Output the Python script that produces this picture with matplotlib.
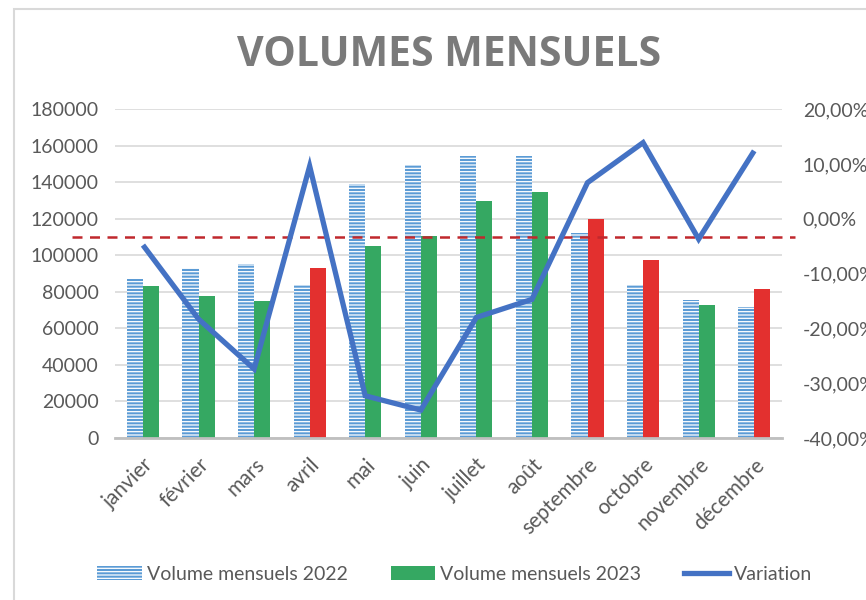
import matplotlib
matplotlib.use("Agg")
import matplotlib.pyplot as plt
from matplotlib.patches import Patch, Rectangle
from matplotlib.lines import Line2D
from matplotlib.ticker import FuncFormatter
import numpy as np

months = ["janvier", "février", "mars", "avril", "mai", "juin", "juillet",
          "août", "septembre", "octobre", "novembre", "décembre"]
vol_2022 = [87000, 93000, 95500, 84000, 139000, 149500, 154500, 154500,
            112000, 84000, 75500, 71500]
vol_2023 = [83000, 78000, 75000, 93000, 105000, 110500, 130000, 134500,
            120000, 97500, 73000, 81500]
variation = [-0.048, -0.183, -0.274, 0.096, -0.323, -0.349, -0.180, -0.147,
             0.066, 0.139, -0.037, 0.124]
threshold = 110000

GREY_TXT = "#595959"
BLUE = "#5b9bd5"
GREEN = "#35a862"
RED = "#e3302f"
LINE = "#4472c4"
FS = 14

plt.rcParams["font.family"] = ["Lato", "DejaVu Sans"]
plt.rcParams["hatch.linewidth"] = 0.9

fig = plt.figure(figsize=(8.66, 6.0), dpi=100)
# light chart border, as in the source screenshot
fig.add_artist(Rectangle((14 / 866, -0.01), 1.0, 1 - 9 / 600 + 0.01,
                         transform=fig.transFigure, fill=False,
                         ec="#d9d9d9", lw=1.5))

ax = fig.add_axes([0.133, 0.27, 0.77, 0.548])
x = np.arange(len(months))
w = 0.29

ax.bar(x - w / 2, vol_2022, w, color=BLUE, edgecolor="white", lw=0,
       hatch="-----", zorder=2)
# 2023 bars are red when they beat 2022, green otherwise
cols23 = [RED if b > a else GREEN for a, b in zip(vol_2022, vol_2023)]
ax.bar(x + w / 2, vol_2023, w, color=cols23, lw=0, zorder=2)

ax.set_xlim(-0.5, len(months) - 0.5)
ax.set_ylim(0, 180000)
ax.set_yticks(range(0, 180001, 20000))
ax.yaxis.grid(True, color="#d9d9d9", lw=1.2, zorder=0)
ax.set_axisbelow(True)
for s in ["top", "right", "left"]:
    ax.spines[s].set_visible(False)
ax.spines["bottom"].set_color("#bfbfbf")
ax.spines["bottom"].set_linewidth(2)
ax.tick_params(axis="y", length=0, labelsize=FS, colors=GREY_TXT, pad=12)
ax.tick_params(axis="x", length=0, labelsize=15, colors=GREY_TXT, pad=12)
ax.set_xticks(x)
ax.set_xticklabels(months, rotation=45, ha="right", rotation_mode="anchor")

# dashed reference line, running a little past the plot area
ax.plot([-1.27, 11.73], [threshold, threshold], ls=(0, (4, 3)), lw=1.8,
        color="#c0282d", clip_on=False, zorder=4)

ax2 = ax.twinx()
ax2.plot(x, variation, color=LINE, lw=3.8, solid_capstyle="butt",
         solid_joinstyle="miter", zorder=5)
ax2.set_ylim(-0.40, 0.20)
ax2.set_yticks(np.arange(-0.40, 0.2001, 0.10))
ax2.yaxis.set_major_formatter(
    FuncFormatter(lambda v, _: f"{round(v * 100, 6) + 0.0:.2f}%".replace(".", ",")))
for s in ax2.spines.values():
    s.set_visible(False)
ax2.tick_params(axis="y", length=0, labelsize=FS, colors=GREY_TXT, pad=15)

fig.text(0.518, 0.908, "VOLUMES MENSUELS", ha="center", va="center",
         fontsize=29.5, fontweight="bold", color="#7a7a7a", family="Open Sans")

handles = [
    Patch(facecolor=BLUE, edgecolor="white", lw=0, hatch="-----"),
    Patch(facecolor=GREEN, lw=0),
    Line2D([0], [0], color=LINE, lw=3.8),
]
fig.legend(handles, ["Volume mensuels 2022", "Volume mensuels 2023", "Variation"],
           loc="center", bbox_to_anchor=(0.525, 0.043), ncol=3, frameon=False,
           fontsize=FS, labelcolor=GREY_TXT, handlelength=2.3,
           handletextpad=0.25, columnspacing=2.2)

fig.savefig("out.png", dpi=100)
